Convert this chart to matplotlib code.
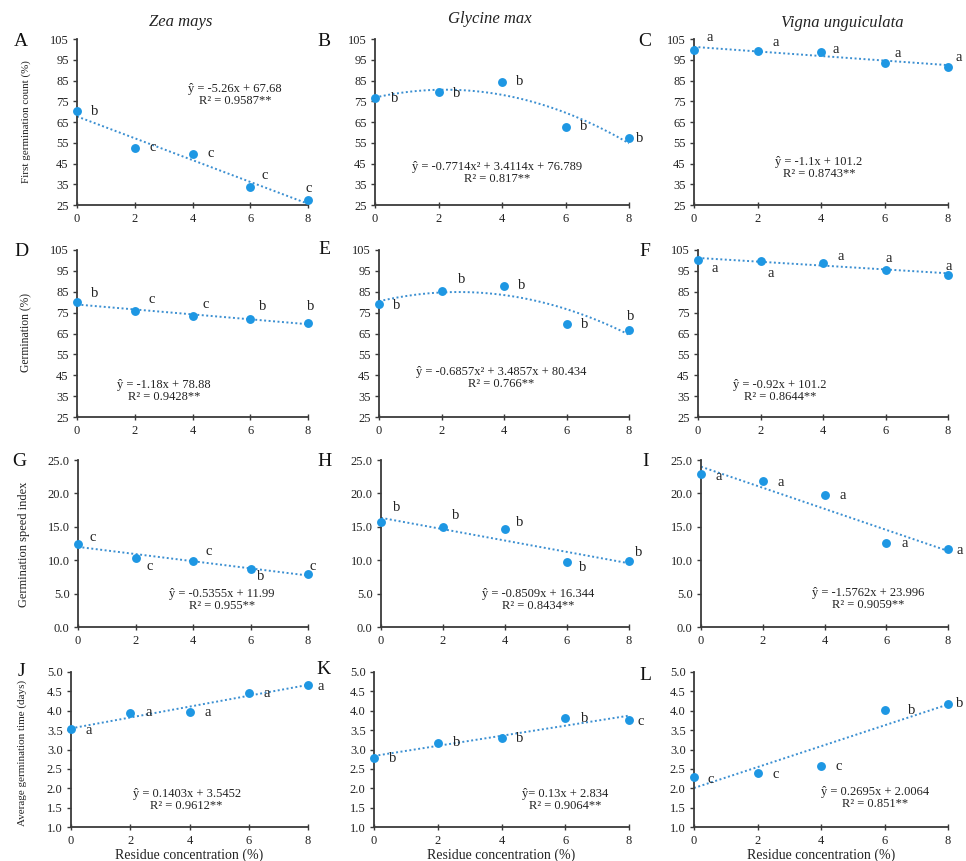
import numpy as np
import matplotlib
matplotlib.use("Agg")
import matplotlib.pyplot as plt

plt.rcParams['font.family'] = ['Liberation Serif', 'DejaVu Serif']

# ---------------- data ----------------
species = ["Zea mays", "Glycine max", "Vigna unguiculata"]
conc = [0, 2, 4, 6, 8]
panel_ids = ["A", "B", "C", "D", "E", "F", "G", "H", "I", "J", "K", "L"]
row_ylabels = ["First germination count (%)", "Germination (%)",
               "Germination speed index", "Average germination time (days)"]
xlabel_text = "Residue concentration (%)"

fgc_zea = [70.2, 52.5, 49.8, 33.8, 27.4]
fgc_gly = [76.7, 79.4, 84.5, 62.6, 57.2]
fgc_vig = [99.8, 99.3, 98.7, 93.6, 91.7]
germ_zea = [80.1, 75.8, 73.6, 72.1, 70.2]
germ_gly = [79.1, 85.5, 87.9, 69.5, 66.9]
germ_vig = [100.0, 99.9, 98.9, 95.2, 93.2]
gsi_zea = [12.4, 10.4, 9.95, 8.75, 7.9]
gsi_gly = [15.75, 14.9, 14.6, 9.75, 9.85]
gsi_vig = [22.85, 21.85, 19.7, 12.6, 11.65]
agt_zea = [3.52, 3.95, 3.97, 4.46, 4.67]
agt_gly = [2.77, 3.18, 3.29, 3.81, 3.75]
agt_vig = [2.28, 2.39, 2.58, 4.01, 4.18]

let_fgc_zea = ["b", "c", "c", "c", "c"]
let_fgc_gly = ["b", "b", "b", "b", "b"]
let_fgc_vig = ["a", "a", "a", "a", "a"]
let_germ_zea = ["b", "c", "c", "b", "b"]
let_germ_gly = ["b", "b", "b", "b", "b"]
let_germ_vig = ["a", "a", "a", "a", "a"]
let_gsi_zea = ["c", "c", "c", "b", "c"]
let_gsi_gly = ["b", "b", "b", "b", "b"]
let_gsi_vig = ["a", "a", "a", "a", "a"]
let_agt_zea = ["a", "a", "a", "a", "a"]
let_agt_gly = ["b", "b", "b", "b", "c"]
let_agt_vig = ["c", "c", "c", "b", "b"]

# regression coefficients (highest power first), as printed
coef_fgc_zea = [-5.26, 67.68]
coef_fgc_gly = [-0.7714, 3.4114, 76.789]
coef_fgc_vig = [-1.1, 101.2]
coef_germ_zea = [-1.18, 78.88]
coef_germ_gly = [-0.6857, 3.4857, 80.434]
coef_germ_vig = [-0.92, 101.2]
coef_gsi_zea = [-0.5355, 11.99]
coef_gsi_gly = [-0.8509, 16.344]
coef_gsi_vig = [-1.5762, 23.996]
coef_agt_zea = [0.1403, 3.5452]
coef_agt_gly = [0.13, 2.834]
coef_agt_vig = [0.2695, 2.0064]

eq_texts = ["ŷ = -5.26x + 67.68", "ŷ = -0.7714x² + 3.4114x + 76.789", "ŷ = -1.1x + 101.2",
            "ŷ = -1.18x + 78.88", "ŷ = -0.6857x² + 3.4857x + 80.434", "ŷ = -0.92x + 101.2",
            "ŷ = -0.5355x + 11.99", "ŷ = -0.8509x + 16.344", "ŷ = -1.5762x + 23.996",
            "ŷ = 0.1403x + 3.5452", "ŷ= 0.13x + 2.834", "ŷ = 0.2695x + 2.0064"]
r2_texts = ["R² = 0.9587**", "R² = 0.817**", "R² = 0.8743**",
            "R² = 0.9428**", "R² = 0.766**", "R² = 0.8644**",
            "R² = 0.955**", "R² = 0.8434**", "R² = 0.9059**",
            "R² = 0.9612**", "R² = 0.9064**", "R² = 0.851**"]

values = [fgc_zea, fgc_gly, fgc_vig, germ_zea, germ_gly, germ_vig,
          gsi_zea, gsi_gly, gsi_vig, agt_zea, agt_gly, agt_vig]
letters = [let_fgc_zea, let_fgc_gly, let_fgc_vig, let_germ_zea, let_germ_gly, let_germ_vig,
           let_gsi_zea, let_gsi_gly, let_gsi_vig, let_agt_zea, let_agt_gly, let_agt_vig]
coefs = [coef_fgc_zea, coef_fgc_gly, coef_fgc_vig, coef_germ_zea, coef_germ_gly, coef_germ_vig,
         coef_gsi_zea, coef_gsi_gly, coef_gsi_vig, coef_agt_zea, coef_agt_gly, coef_agt_vig]

# ---------------- layout ----------------
W, H = 966, 861
# axes box in pixels: left, right, top, bottom
lefts = [77, 375, 694, 77, 379, 698, 78, 381, 701, 71, 374, 694]
rights = [308, 629, 948] * 4
tops = [39] * 3 + [250] * 3 + [460] * 3 + [672] * 3
bottoms = [205] * 3 + [417] * 3 + [627] * 3 + [827] * 3

row_ylims = [(25, 105), (25, 105), (0, 25), (1, 5)]
row_yticks = [np.arange(25, 106, 10), np.arange(25, 106, 10),
              np.arange(0, 25.1, 5), np.arange(1, 5.01, 0.5)]
row_fmt = ["{:.0f}", "{:.0f}", "{:.1f}", "{:.1f}"]

# letter offsets in pixels (dx, dy)
letter_offsets = [
    [(18, 0), (18, 0), (18, 0), (14, 11), (1, 12)],
    [(20, -1), (18, -1), (18, 0), (18, 0), (11, 0)],
    [(16, 12), (18, 8), (15, 3), (13, 9), (11, 9)],
    [(18, 8), (17, 11), (13, 11), (12, 12), (3, 16)],
    [(18, -1), (20, 11), (18, 0), (18, 0), (2, 13)],
    [(17, -8), (10, -13), (18, 6), (3, 12), (1, 8)],
    [(15, 7), (14, -9), (16, 9), (10, -8), (5, 8)],
    [(16, 14), (13, 12), (15, 7), (16, -6), (10, 9)],
    [(18, -2), (18, -1), (18, 0), (18, -1), (12, -1)],
    [(18, -1), (18, 0), (18, -1), (18, -1), (13, -2)],
    [(19, 0), (19, 0), (18, 0), (19, 0), (12, -1)],
    [(17, -2), (18, -1), (18, -1), (27, 0), (12, 0)],
]
eq_pos = [(0.684, 0.66), (0.479, 0.19), (0.492, 0.22),
          (0.377, 0.156), (0.487, 0.233), (0.328, 0.156),
          (0.625, 0.162), (0.635, 0.162), (0.678, 0.168),
          (0.488, 0.177), (0.751, 0.174), (0.711, 0.186)]
panel_letter_pos = [(21, 41), (324, 42), (645, 41),
                    (21, 251), (324, 249), (645, 251),
                    (19, 461), (325, 462), (646, 462),
                    (21, 671), (323, 670), (645, 676)]
title_pos = [(181, 22), (490, 19), (842, 23)]
ylabel_x = [26, 26, 24, 22]
ylabel_y = [122, 333, 544, 753]
ylabel_size = [7.9, 8.4, 9.0, 8.0]

point_color = "#1e97e3"
line_color = "#3b8fd1"
spine_color = "#3a3a3a"

fig = plt.figure(figsize=(W / 100, H / 100), dpi=100)

for i in range(12):
    r, c = divmod(i, 3)
    l, rr, t, b = lefts[i], rights[i], tops[i], bottoms[i]
    ax = fig.add_axes([l / W, 1 - b / H, (rr - l) / W, (b - t) / H])
    ax.set_xlim(0, 8)
    ax.set_ylim(*row_ylims[r])
    ax.set_xticks(conc)
    ax.set_xticklabels([str(v) for v in conc])
    ax.set_yticks(row_yticks[r])
    ax.set_yticklabels([row_fmt[r].format(v) for v in row_yticks[r]])
    for s in ["top", "right"]:
        ax.spines[s].set_visible(False)
    for s in ["left", "bottom"]:
        ax.spines[s].set_color(spine_color)
        ax.spines[s].set_linewidth(1.3)
    ax.tick_params(axis="both", labelsize=9, color=spine_color, width=1.0,
                   length=3, pad=3, labelcolor="#222222")
    ax.tick_params(axis="x", direction="inout", length=5)

    xs = np.linspace(0, 8, 100)
    ax.plot(xs, np.polyval(coefs[i], xs), linestyle=(0, (1, 1.3)), color=line_color,
            linewidth=1.4, clip_on=False, zorder=2)
    ax.plot(conc, values[i], linestyle="none", marker="o", markersize=6.4,
            color=point_color, markeredgewidth=0, clip_on=False, zorder=3)
    for j, (xv, yv) in enumerate(zip(conc, values[i])):
        dx, dy = letter_offsets[i][j]
        ax.annotate(letters[i][j], (xv, yv), xytext=(dx, dy), textcoords="offset pixels",
                    ha="center", va="center", fontsize=10.5, color="#222222",
                    annotation_clip=False)
    ex, ey = eq_pos[i]
    ax.text(ex, ey, eq_texts[i] + "\n" + r2_texts[i], transform=ax.transAxes,
            ha="center", va="center", fontsize=9, color="#222222", linespacing=1.0)

    px, py = panel_letter_pos[i]
    fig.text(px / W, 1 - py / H, panel_ids[i], ha="center", va="center",
             fontsize=14, color="#111111")

    if c == 0:
        fig.text(ylabel_x[r] / W, 1 - ylabel_y[r] / H, row_ylabels[r], rotation=90,
                 ha="center", va="center", fontsize=ylabel_size[r], color="#222222")
    if r == 3:
        fig.text(((l + rr) / 2) / W, 1 - 855 / H, xlabel_text, ha="center", va="center",
                 fontsize=10, color="#222222")

for k, name in enumerate(species):
    tx, ty = title_pos[k]
    fig.text(tx / W, 1 - ty / H, name, ha="center", va="center", fontsize=12,
             style="italic", color="#222222")

fig.savefig("out.png", dpi=100, facecolor="white")
